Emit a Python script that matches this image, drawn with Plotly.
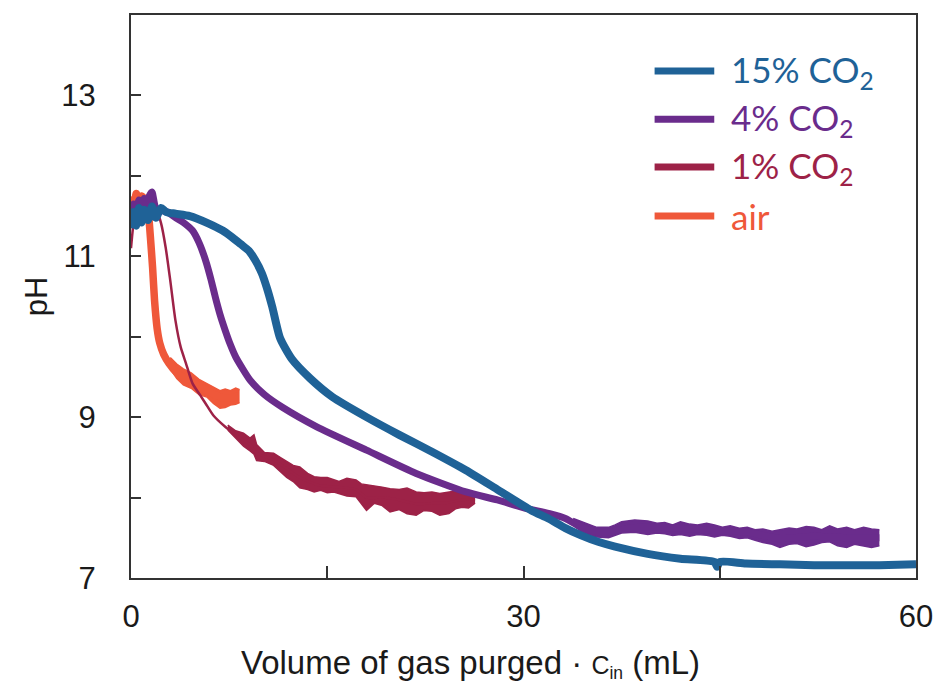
import plotly.graph_objects as go

# ---- series: pH vs. volume of gas purged * C_in (mL) ----
# 15% CO2
x_15 = [0, 0.2, 0.4, 0.6, 0.8, 1.0, 1.3, 1.6, 1.9, 2.3, 2.7, 3.4, 4.5, 5.9, 7.0, 7.7,
        8.4, 9.0, 9.5, 10.0, 10.4, 10.8, 11.4, 12.3, 13.7, 15.4, 18.0, 20.5, 23.0, 25.6,
        28.1, 30.6, 31.9, 33.2, 34.4, 35.7, 37.0, 39.5, 42.0, 44.6, 44.8, 45.0, 47.0,
        49.6, 52.2, 54.7, 57.2, 60.0]
ph_15 = [11.35, 11.55, 11.38, 11.6, 11.42, 11.58, 11.45, 11.62, 11.48, 11.6, 11.55, 11.53,
         11.5, 11.41, 11.32, 11.24, 11.15, 11.07, 10.95, 10.79, 10.6, 10.37, 9.98, 9.72,
         9.48, 9.25, 9.0, 8.78, 8.57, 8.34, 8.09, 7.84, 7.74, 7.62, 7.53, 7.45, 7.39, 7.30,
         7.24, 7.20, 7.14, 7.20, 7.18, 7.17, 7.16, 7.16, 7.16, 7.17]

# 4% CO2
x_4 = [0, 0.2, 0.4, 0.6, 0.8, 1.0, 1.2, 1.4, 1.6, 1.9, 2.3, 2.8, 3.4, 4.0, 4.7, 5.2,
       5.7, 6.1, 6.45, 6.8, 7.2, 7.6, 8.0, 9.1, 10.2, 11.6, 14.2, 18.0, 21.8, 25.6, 28.0,
       30.1, 32.0, 33.2, 34.4, 35.5, 36.5, 38.0, 39.5, 42.0, 44.6, 47.1, 49.6, 52.2, 54.7,
       57.2]
ph_4 = [11.45, 11.65, 11.5, 11.7, 11.55, 11.72, 11.6, 11.75, 11.8, 11.6, 11.57, 11.55,
        11.48, 11.42, 11.32, 11.17, 10.95, 10.72, 10.49, 10.28, 10.08, 9.9, 9.75, 9.46,
        9.28, 9.12, 8.88, 8.59, 8.30, 8.07, 7.97, 7.87, 7.80, 7.74, 7.63, 7.58, 7.57, 7.62,
        7.63, 7.62, 7.59, 7.57, 7.49, 7.52, 7.50, 7.50]
# scatter envelope of the 4% trace once it levels off
xb_4 = [33.8, 34.4, 35.0, 35.6, 36.5, 37.0, 37.5, 38.5, 39.5, 40.2, 40.8, 41.4, 42.0,
        42.7, 43.3, 44.0, 44.6, 45.2, 45.8, 46.5, 47.1, 47.7, 48.3, 49.0, 49.6, 50.3,
        50.9, 51.6, 52.2, 52.8, 53.4, 54.0, 54.7, 55.3, 56.0, 56.6, 57.2]
hi_4 = [7.74, 7.70, 7.67, 7.63, 7.63, 7.66, 7.70, 7.72, 7.71, 7.68, 7.69, 7.66, 7.70,
        7.67, 7.66, 7.68, 7.66, 7.63, 7.65, 7.62, 7.63, 7.60, 7.61, 7.58, 7.60, 7.62,
        7.61, 7.64, 7.63, 7.60, 7.65, 7.61, 7.63, 7.60, 7.63, 7.61, 7.60]
lo_4 = [7.66, 7.58, 7.53, 7.51, 7.50, 7.53, 7.56, 7.57, 7.54, 7.56, 7.55, 7.53, 7.54,
        7.52, 7.54, 7.53, 7.51, 7.53, 7.52, 7.49, 7.50, 7.47, 7.44, 7.42, 7.38, 7.42,
        7.43, 7.39, 7.41, 7.44, 7.45, 7.40, 7.38, 7.42, 7.40, 7.38, 7.40]

# 1% CO2
x_1 = [0, 0.15, 0.3, 0.5, 0.7, 0.9, 1.1, 1.4, 1.7, 2.0, 2.3, 2.65, 3.0, 3.4, 3.8, 4.2,
       4.7, 5.3, 5.7, 6.3, 7.2, 8.0, 8.6, 9.1, 9.6, 10.9, 12.9, 14.4, 15.9, 17.2, 18.0,
       19.2, 20.5, 21.8, 23.0, 24.3, 25.2, 26.3]
ph_1 = [11.1, 11.35, 11.5, 11.62, 11.55, 11.65, 11.6, 11.62, 11.58, 11.55, 11.41, 11.11,
        10.70, 10.20, 9.87, 9.67, 9.42, 9.27, 9.17, 9.02, 8.88, 8.78, 8.71, 8.66, 8.55,
        8.47, 8.25, 8.15, 8.13, 8.10, 8.00, 8.00, 7.97, 7.92, 7.93, 7.94, 7.97, 7.98]
xb_1 = [7.4, 8.0, 8.6, 9.1, 9.4, 9.6, 10.2, 10.9, 11.4, 11.9, 12.4, 12.9, 13.5, 14.0,
        14.5, 15.0, 15.5, 15.9, 16.5, 17.2, 17.6, 18.0, 18.6, 19.2, 19.8, 20.5, 21.1,
        21.8, 22.4, 23.0, 23.6, 24.3, 24.8, 25.3, 25.8, 26.3]
hi_1 = [8.90, 8.83, 8.80, 8.74, 8.78, 8.66, 8.56, 8.55, 8.50, 8.45, 8.40, 8.38, 8.30,
        8.26, 8.25, 8.25, 8.22, 8.20, 8.24, 8.22, 8.17, 8.16, 8.15, 8.13, 8.11, 8.10,
        8.12, 8.07, 8.06, 8.07, 8.05, 8.07, 8.08, 8.05, 8.06, 8.02]
lo_1 = [8.84, 8.74, 8.64, 8.58, 8.54, 8.46, 8.45, 8.40, 8.33, 8.25, 8.20, 8.12, 8.10,
        8.07, 8.09, 8.06, 8.07, 8.05, 8.02, 8.01, 7.92, 7.84, 7.93, 7.90, 7.82, 7.85,
        7.80, 7.78, 7.84, 7.83, 7.78, 7.80, 7.86, 7.88, 7.87, 7.93]

# air
x_air = [0, 0.1, 0.25, 0.4, 0.6, 0.8, 1.0, 1.2, 1.35, 1.5, 1.65, 1.8, 2.0, 2.2, 2.5,
         2.9, 3.5, 3.9, 4.6, 5.2, 5.8, 6.5, 7.0, 7.6, 8.2]
ph_air = [11.5, 11.7, 11.65, 11.78, 11.7, 11.75, 11.72, 11.65, 11.5, 11.2, 10.86, 10.45,
          10.1, 9.92, 9.78, 9.67, 9.55, 9.50, 9.45, 9.38, 9.33, 9.27, 9.24, 9.24, 9.26]
xb_air = [3.0, 3.5, 4.0, 4.6, 5.2, 5.8, 6.3, 6.8, 7.2, 7.6, 8.0, 8.3]
hi_air = [9.74, 9.66, 9.60, 9.55, 9.47, 9.42, 9.38, 9.33, 9.35, 9.33, 9.36, 9.34]
lo_air = [9.60, 9.48, 9.40, 9.36, 9.28, 9.25, 9.17, 9.11, 9.12, 9.15, 9.16, 9.18]

labels = ["15% CO<sub>2</sub>", "4% CO<sub>2</sub>", "1% CO<sub>2</sub>", "air"]
colors = ["#1f6297", "#6a2c8c", "#9d2247", "#ef583a"]
widths = [8, 7, 2.5, 7.5]

x_ticks = [0, 15, 30, 45, 60]
x_ticktext = ["0", "", "30", "", "60"]
y_ticks = [7, 8, 9, 10, 11, 12, 13, 14]
y_ticktext = ["7", "", "9", "", "11", "", "13", ""]

x_title = "Volume of gas purged · <span style='font-size:25px'>C<sub>in</sub></span> (mL)"
y_title = "pH"

series = [
    (x_15, ph_15, None),
    (x_4, ph_4, (xb_4, lo_4, hi_4)),
    (x_1, ph_1, (xb_1, lo_1, hi_1)),
    (x_air, ph_air, (xb_air, lo_air, hi_air)),
]

fig = go.Figure()

# draw air first so the CO2 curves sit on top of it
for i in [3, 2, 1, 0]:
    xs, ys, band = series[i]
    c = colors[i]
    if band is not None:
        bx, lo, hi = band
        fig.add_trace(go.Scatter(x=bx, y=hi, mode="lines", line=dict(color=c, width=1.5),
                                 showlegend=False, hoverinfo="skip"))
        fig.add_trace(go.Scatter(x=bx, y=lo, mode="lines", line=dict(color=c, width=1.5),
                                 fill="tonexty", fillcolor=c, showlegend=False,
                                 hoverinfo="skip"))
    fig.add_trace(go.Scatter(x=xs, y=ys, mode="lines", name=labels[i],
                             line=dict(color=c, width=widths[i], shape="spline",
                                       smoothing=0.6),
                             showlegend=False))

# hand-placed legend: coloured sample line + coloured label per series
row_y = [0.9005, 0.815, 0.730, 0.643]
for i, lab in enumerate(labels):
    fig.add_shape(type="line", xref="paper", yref="paper",
                  x0=0.667, x1=0.743, y0=row_y[i], y1=row_y[i],
                  line=dict(color=colors[i], width=7))
    fig.add_annotation(xref="paper", yref="paper", x=0.762, y=row_y[i],
                       xanchor="left", yanchor="middle", text=lab, showarrow=False,
                       font=dict(family="Lato", size=35, color=colors[i]))

# x-axis title, set slightly left of the plot centre
fig.add_annotation(xref="paper", yref="paper", x=0.432, y=-0.151,
                   xanchor="center", yanchor="middle", text=x_title, showarrow=False,
                   font=dict(family="Liberation Sans", size=33, color="#1a1a1a"))

axis_common = dict(showline=True, linecolor="#333333", linewidth=2, mirror=True,
                   ticks="inside", tickcolor="#333333", tickwidth=2, showgrid=False,
                   zeroline=False, tickfont=dict(family="Liberation Sans", size=31,
                                                 color="#1a1a1a"))

fig.update_xaxes(range=[0, 60], tickvals=x_ticks, ticktext=x_ticktext, ticklen=12,
                 ticklabelstandoff=10, **axis_common)
fig.update_yaxes(range=[7, 14], tickvals=y_ticks, ticktext=y_ticktext, ticklen=10,
                 ticklabelstandoff=27,
                 title=dict(text=y_title, font=dict(family="Liberation Sans", size=31,
                                                    color="#1a1a1a"), standoff=4),
                 **axis_common)

fig.update_layout(width=945, height=698, margin=dict(l=131, r=25, t=15, b=120),
                  plot_bgcolor="white", paper_bgcolor="white", showlegend=False)

fig.write_html("out.html")
